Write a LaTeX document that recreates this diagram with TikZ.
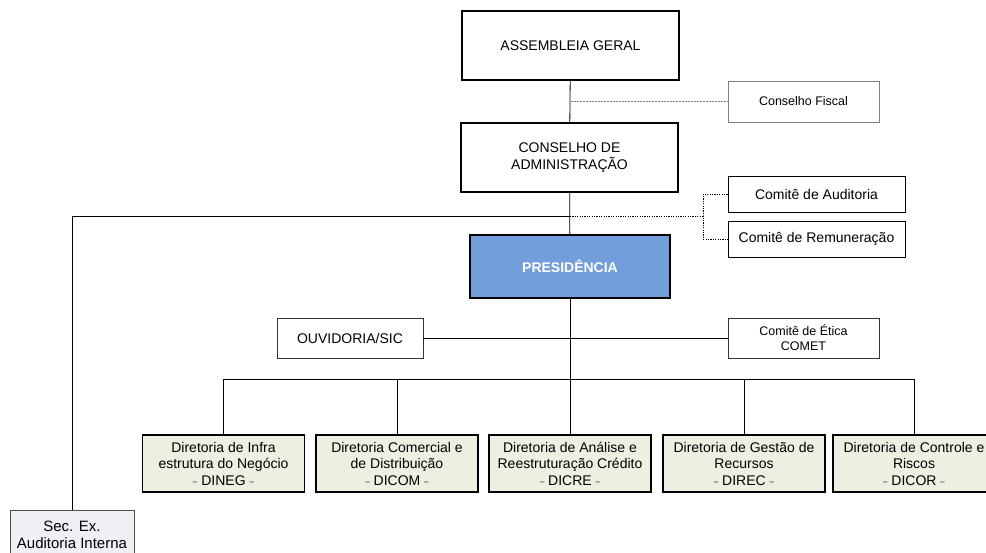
\documentclass[tikz,border=0pt]{standalone}
\usepackage{fontspec}
\setmainfont{Liberation Sans}
\definecolor{presblue}{RGB}{114,159,220}
\definecolor{dirfill}{RGB}{236,240,224}
\definecolor{secfill}{RGB}{238,240,246}
\newcommand{\dsh}{{\fontsize{8}{8}\selectfont\raisebox{0.2ex}{--}}}
\begin{document}
\begin{tikzpicture}[x=1pt,y=-1pt,
		bigbox/.style={draw,line width=1.6pt,align=center,inner sep=0pt,minimum width=217pt,minimum height=69pt,font=\fontsize{14}{16.5}\selectfont},
		sidebox/.style={draw,align=center,inner sep=0pt,font=\fontsize{12.5}{15}\selectfont},
		combox/.style={draw,line width=1pt,inner sep=0pt,minimum width=177pt,minimum height=36pt,font=\fontsize{14}{16.5}\selectfont},
		dirbox/.style={draw,line width=1.3pt,fill=dirfill,align=center,inner sep=0pt,minimum width=162pt,minimum height=57pt,font=\fontsize{14}{16.5}\selectfont},
		link/.style={line width=0.8pt}]
		\useasboundingbox (0,0) rectangle (986,552);
		\clip (0,0) rectangle (986,552);
		\node[bigbox] (ag) at (570.5,45.5) {ASSEMBLEIA GERAL};
		\node[sidebox,draw=gray,minimum width=151pt,minimum height=41pt] (cf) at (803.5,101.5) {Conselho Fiscal};
		\node[bigbox] (ca) at (569.5,157.5) {CONSELHO DE\\ADMINISTRAÇÃO};
		\node[combox] (caud) at (816.5,194) {Comitê de Auditoria};
		\node[combox] (crem) at (816.5,239) {Comitê de Remuneração};
		\node[bigbox,fill=presblue,minimum width=200pt,minimum height=63pt,text=white,font=\fontsize{14}{16.5}\selectfont\bfseries] (pres) at (570,266.5) {PRESIDÊNCIA};
		\node[sidebox,draw=black!80,minimum width=146pt,minimum height=40pt,font=\fontsize{14}{16.5}\selectfont] (ouv) at (350,338) {OUVIDORIA/SIC};
		\node[sidebox,draw=black!80,minimum width=151pt,minimum height=40pt] (cet) at (803.5,338) {Comitê de Ética\\COMET};
		\node[dirbox] (dineg) at (223.5,463.5) {Diretoria de Infra\\estrutura do Negócio\\\dsh\ DINEG\ \dsh};
		\node[dirbox] (dicom) at (397,463.5) {Diretoria Comercial e\\de Distribuição\\\dsh\ DICOM\ \dsh};
		\node[dirbox] (dicre) at (570,463.5) {Diretoria de Análise e\\Reestruturação Crédito\\\dsh\ DICRE\ \dsh};
		\node[dirbox] (direc) at (744,463.5) {Diretoria de Gestão de\\Recursos\\\dsh\ DIREC\ \dsh};
		\node[dirbox] (dicor) at (914,463.5) {Diretoria de Controle e\\Riscos\\\dsh\ DICOR\ \dsh};
		\node[draw=black!70,fill=secfill,align=center,inner sep=0pt,minimum width=124pt,minimum height=50pt,font=\fontsize{15}{16.5}\selectfont] (sec) at (72,535) {Sec. Ex.\\Auditoria Interna};
		\coordinate (jfis) at (ag.south |- cf.west);
		\coordinate (jaud) at (570,216);
		\coordinate (dj) at (703,216);
		\coordinate (br) at (570,379);
		\draw[link] (ag) -- (ca);
		\draw[gray,line width=0.6pt,dash pattern=on 2pt off 1pt] (jfis) -- (cf.west);
		\draw[link] (ca) -- (pres);
		\draw[link] (jaud) -| (sec.north);
		\draw[line width=0.8pt,dash pattern=on 1.2pt off 1.2pt] (jaud) -- (dj);
		\draw[line width=0.8pt,dash pattern=on 1.2pt off 1.2pt] (caud.west) -| (dj) |- (crem.west);
		\draw[link] (pres) -- (br);
		\draw[link] (ouv) -- (cet);
		\foreach \d in {dineg,dicom,dicre,direc,dicor}
			\draw[link] (br) -| (\d.north);
	\end{tikzpicture}
\end{document}
